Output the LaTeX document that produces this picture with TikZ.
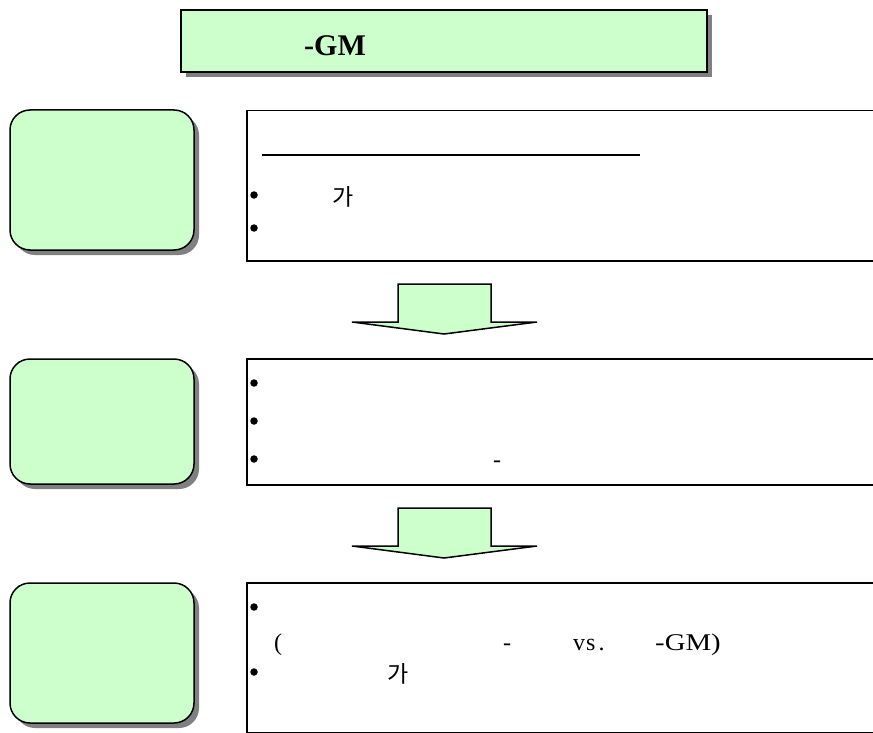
\documentclass[tikz,border=0pt]{standalone}
\usepackage{fontspec}
\setmainfont{Liberation Serif}
\newfontfamily\kr{Noto Sans CJK KR}
\usetikzlibrary{shadows}
\definecolor{lgreen}{RGB}{204,255,204}
\definecolor{shgray}{RGB}{128,128,128}
\tikzset{
  x=1pt,y=-1pt,
  gshadow/.style={drop shadow={shadow xshift=5pt,shadow yshift=-5pt,fill=shgray,opacity=1}},
  titlebox/.style={draw=black,line width=1.5pt,fill=lgreen,gshadow,minimum width=526pt,minimum height=62pt,inner sep=0pt},
  lbox/.style={draw=black,line width=1.5pt,fill=lgreen,gshadow,rounded corners=20pt,minimum width=184pt,inner sep=0pt},
  rbox/.style={draw=black,line width=1.5pt,fill=white,minimum width=660pt,inner sep=0pt,anchor=north west},
  txt/.style={anchor=base west,inner sep=0pt,font=\fontsize{24}{28}\selectfont},
  krtxt/.style={anchor=base west,inner sep=0pt,font=\kr\fontsize{23}{28}\selectfont},
  bul/.style={circle,fill=black,inner sep=0pt,minimum size=7.5pt},
  garrow/.style={draw=black,line width=1.5pt,fill=lgreen,line join=miter},
}
\begin{document}
\begin{tikzpicture}
\useasboundingbox (0,0) rectangle (873,733);
% title
\node[titlebox] (title) at (444,41) {};
\node[anchor=base west,inner sep=0pt,font=\fontsize{30}{34}\selectfont\bfseries] (titletxt) at (304,56) {-GM};
% left boxes
\node[lbox,minimum height=140pt] (l1) at (102,180) {};
\node[lbox,minimum height=125pt] (l2) at (102,421.5) {};
\node[lbox,minimum height=140pt] (l3) at (102,653) {};
% right boxes
\node[rbox,minimum height=150pt] (r1) at (246,110) {};
\node[rbox,minimum height=126pt] (r2) at (246,358) {};
\node[rbox,minimum height=150pt] (r3) at (246,582) {};
% box 1 content
\draw[line width=1.2pt] (262,155) -- (640,155);
\node[bul] (b1a) at (254,195) {};
\node[krtxt] (b1k) at (332,205) {가};
\node[bul] (b1b) at (254,228) {};
% box 2 content
\node[bul] (b2a) at (254,383) {};
\node[bul] (b2b) at (254,421) {};
\node[bul] (b2c) at (254,459) {};
\node[txt] (b2d) at (493,467) {-};
% box 3 content
\node[bul] (b3a) at (254,607) {};
\node[txt] (b3p) at (274,650) {(};
\node[txt] (b3d) at (503,650) {-};
\node[txt] (b3v) at (573,650) {v\kern1pt s\kern3pt .};
\node[txt] (b3g) at (655,650) {\scalebox{1.2}[1]{-GM)}};
\node[bul] (b3b) at (254,672) {};
\node[krtxt] (b3k) at (387,682) {가};
% arrows
\draw[garrow] (398,284) -- (491,284) -- (491,322) -- (537,322) -- (444,334) -- (352,322) -- (398,322) -- cycle;
\draw[garrow] (398,508) -- (491,508) -- (491,546) -- (537,546) -- (444,558) -- (352,546) -- (398,546) -- cycle;
\end{tikzpicture}
\end{document}
